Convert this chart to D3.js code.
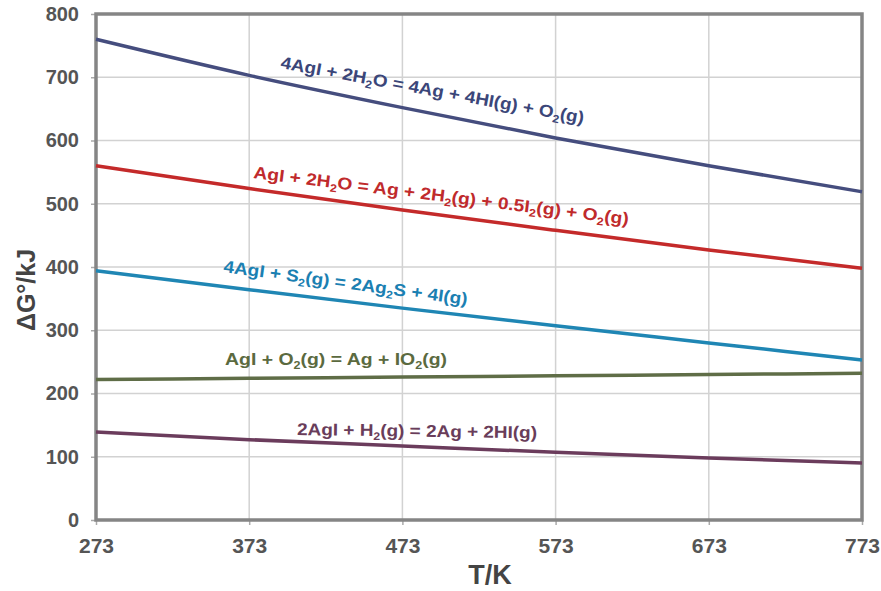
<!DOCTYPE html>
<html>
<head>
<meta charset="utf-8">
<script src="https://cdn.jsdelivr.net/npm/d3@7"></script>
<style>
  body { margin: 0; background: #fff; }
  svg { display: block; font-family: "Liberation Sans", Arial, sans-serif; }
</style>
</head>
<body>
<svg id="chart" width="881" height="591"></svg>
<script>
// Temperatures (K) at which ΔG° is tabulated
const temperatures = [273, 373, 473, 573, 673, 773];

// ΔG° (kJ) for each reaction
const agiWaterHI   = [760, 703, 652, 604, 560, 519];
const agiWaterH2   = [560, 524, 490, 458, 427, 398];
const agiSulfur    = [394, 364, 335, 307, 280, 253];
const agiOxygen    = [222, 224, 226, 228, 230, 232];
const agiHydrogen  = [139, 127, 117, 107,  98,  90];

const xTicks = [273, 373, 473, 573, 673, 773];
const yTicks = [0, 100, 200, 300, 400, 500, 600, 700, 800];

// Reaction equations; each part is [text, isSubscript]
const reactions = [
  { values: agiWaterHI, color: "#454d7e", text: "#3b4679",
    parts: [["4AgI + 2H",0],["2",1],["O = 4Ag + 4HI(g) + O",0],["2",1],["(g)",0]],
    at: [280, 68], angle: 10.4, len: 308 },
  { values: agiWaterH2, color: "#c42a2a", text: "#c02a2c",
    parts: [["AgI + 2H",0],["2",1],["O = Ag + 2H",0],["2",1],["(g) + 0.5I",0],["2",1],["(g) + O",0],["2",1],["(g)",0]],
    at: [253, 178], angle: 7.1, len: 378 },
  { values: agiSulfur, color: "#1f86b4", text: "#1b80b2",
    parts: [["4AgI + S",0],["2",1],["(g) = 2Ag",0],["2",1],["S + 4I(g)",0]],
    at: [223, 272], angle: 7.7, len: 246 },
  { values: agiOxygen, color: "#5f6d47", text: "#5b6a3f",
    parts: [["AgI + O",0],["2",1],["(g) = Ag + IO",0],["2",1],["(g)",0]],
    at: [225, 365], angle: 0, len: 222 },
  { values: agiHydrogen, color: "#6b3c5c", text: "#693d5a",
    parts: [["2AgI + H",0],["2",1],["(g) = 2Ag + 2HI(g)",0]],
    at: [297, 435], angle: 0.8, len: 240 }
];

const svg = d3.select("#chart");
const plot = { left: 96, right: 862, top: 14, bottom: 520 };

const x = d3.scaleLinear().domain([273, 773]).range([plot.left, plot.right]);
const y = d3.scaleLinear().domain([0, 800]).range([plot.bottom, plot.top]);

// Grid
svg.append("g").selectAll("line").data(xTicks.slice(1, -1)).join("line")
  .attr("x1", d => x(d)).attr("x2", d => x(d))
  .attr("y1", plot.top).attr("y2", plot.bottom)
  .attr("stroke", "#d2d2d2").attr("stroke-width", 1.5);
svg.append("g").selectAll("line").data(yTicks.slice(1, -1)).join("line")
  .attr("x1", plot.left).attr("x2", plot.right)
  .attr("y1", d => y(d)).attr("y2", d => y(d))
  .attr("stroke", "#d2d2d2").attr("stroke-width", 1.5);

// Axes
const xAxis = d3.axisBottom(x).tickValues(xTicks).tickSize(5).tickPadding(13).tickFormat(d3.format("d"));
const yAxis = d3.axisLeft(y).tickValues(yTicks).tickSize(5).tickPadding(12).tickFormat(d3.format("d"));

const gx = svg.append("g").attr("transform", `translate(0,${plot.bottom})`).call(xAxis);
const gy = svg.append("g").attr("transform", `translate(${plot.left},0)`).call(yAxis);
[gx, gy].forEach(g => {
  g.select(".domain").remove();
  g.selectAll(".tick line").attr("stroke", "#aaa").attr("stroke-width", 1.5);
  g.selectAll(".tick text").attr("fill", "#555").attr("font-weight", "bold");
});
gy.selectAll(".tick text").attr("font-size", 20);
gx.selectAll(".tick text").attr("font-size", 21);

// Plot frame
svg.append("rect")
  .attr("x", plot.left).attr("y", plot.top)
  .attr("width", plot.right - plot.left).attr("height", plot.bottom - plot.top)
  .attr("fill", "none").attr("stroke", "#858585").attr("stroke-width", 3.5);

// Reaction lines
const line = d3.line()
  .x((d, i) => x(temperatures[i]))
  .y(d => y(d))
  .curve(d3.curveMonotoneX);
svg.append("g").selectAll("path").data(reactions).join("path")
  .attr("d", d => line(d.values))
  .attr("fill", "none")
  .attr("stroke", d => d.color)
  .attr("stroke-width", 3.5);

// Reaction labels with subscripts
reactions.forEach(r => {
  const t = svg.append("text")
    .attr("transform", `translate(${r.at[0]},${r.at[1]}) rotate(${r.angle})`)
    .attr("fill", r.text)
    .attr("font-size", 17)
    .attr("font-weight", "bold")
    .attr("textLength", r.len)
    .attr("lengthAdjust", "spacingAndGlyphs");
  r.parts.forEach(([s, sub], i) => {
    const prevSub = i > 0 ? r.parts[i - 1][1] : 0;
    const ts = t.append("tspan").text(s)
      .attr("dy", sub && !prevSub ? 4 : (!sub && prevSub ? -4 : 0));
    if (sub) ts.attr("font-size", 11);
  });
});

// Axis titles
svg.append("text")
  .attr("x", 490).attr("y", 584)
  .attr("text-anchor", "middle")
  .attr("fill", "#444").attr("font-size", 27).attr("font-weight", "bold")
  .text("T/K");

svg.append("text")
  .attr("transform", "translate(35,290) rotate(-90)")
  .attr("text-anchor", "middle")
  .attr("fill", "#444").attr("font-size", 25).attr("font-weight", "bold")
  .text("ΔG°/kJ");
</script>
</body>
</html>
